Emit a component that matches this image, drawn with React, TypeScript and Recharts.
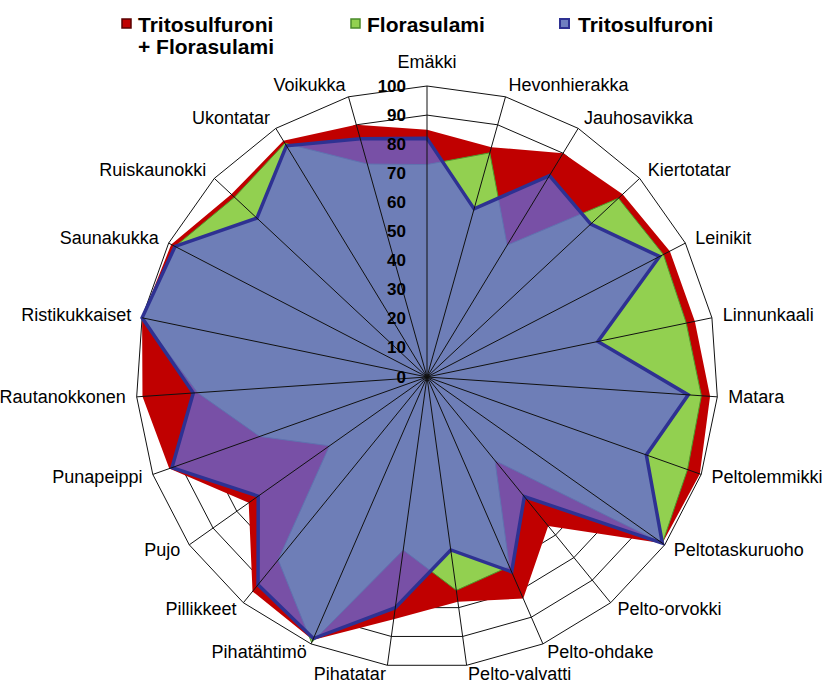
import { PolarAngleAxis, PolarGrid, PolarRadiusAxis, Radar, RadarChart } from "recharts";

const WEEDS = [
  "Emäkki",
  "Hevonhierakka",
  "Jauhosavikka",
  "Kiertotatar",
  "Leinikit",
  "Linnunkaali",
  "Matara",
  "Peltolemmikki",
  "Peltotaskuruoho",
  "Pelto-orvokki",
  "Pelto-ohdake",
  "Pelto-valvatti",
  "Pihatatar",
  "Pihatähtimö",
  "Pillikkeet",
  "Pujo",
  "Punapeippi",
  "Rautanokkonen",
  "Ristikukkaiset",
  "Saunakukka",
  "Ruiskaunokki",
  "Ukontatar",
  "Voikukka",
];

// teho-% per rikkakasvi
const COMBO = [85, 82, 90, 92, 94, 94, 97.5, 99.5, 99, 66, 83, 78, 84, 98.5, 95, 75, 94, 98, 100, 99, 92, 95, 90];
const FLORASULAMI = [73, 80, 53, 90, 91.5, 91, 94.5, 95, 99, 37, 71, 74, 60, 99.5, 81, 41, 61, 79, 100, 97.5, 90.5, 94, 76];
const TRITOSULFURONI = [82, 60, 81, 77, 90, 60, 90, 80, 99, 53, 73, 60, 80, 98, 92, 71, 93, 80.5, 100, 97.5, 80, 93, 85];

const SERIES_NAMES = ["Tritosulfuroni + Florasulami", "Florasulami", "Tritosulfuroni"];
const RADIUS_TICKS = [0, 10, 20, 30, 40, 50, 60, 70, 80, 90, 100];

const data = WEEDS.map((name, i) => ({
  name,
  combo: COMBO[i],
  flora: FLORASULAMI[i],
  trito: TRITOSULFURONI[i],
}));

const W = 824;
const H = 684;
const CX = 427;
const CY = 377;
const R = 291;
const FONT = "'Liberation Sans', Arial, sans-serif";

const RED = "#c00000";
const GREEN = "#92d050";
const BLUE = "#6466d5";
const NAVY = "#2e3192";

function AngleTick(props: any) {
  const { x, y, payload } = props;
  const dx = x - CX;
  const dy = y - CY;
  const len = Math.hypot(dx, dy) || 1;
  const ux = dx / len;
  const uy = dy / len;
  const ex = CX + ux * R;
  const ey = CY + uy * R;
  let anchor: "start" | "end" | "middle" = "middle";
  let tx = ex;
  let ty = ey - 24;
  if (Math.abs(ux) > 0.01) {
    anchor = ux > 0 ? "start" : "end";
    tx = ex + ux * 11;
    ty = ey + uy * (uy > 0 ? 8.5 : 12);
  }
  return (
    <text x={tx} y={ty} textAnchor={anchor} dominantBaseline="central" fontFamily={FONT} fontSize={18} fill="#000">
      {payload.value}
    </text>
  );
}

function RadiusTick(props: any) {
  const { y, payload } = props;
  return (
    <text
      x={CX - 21}
      y={y}
      textAnchor="end"
      dominantBaseline="central"
      fontFamily={FONT}
      fontWeight="bold"
      fontSize={17}
      fill="#000"
    >
      {payload.value}
    </text>
  );
}

function ChartLegend() {
  const text = { fontFamily: FONT, fontWeight: "bold" as const, fontSize: 21, fill: "#000" };
  return (
    <svg width={W} height={62} style={{ position: "absolute", left: 0, top: 0, pointerEvents: "none" }}>
      <rect x={122} y={19} width={9} height={9} fill={RED} stroke="#5a0000" strokeWidth={1.5} />
      <text x={138} y={32.3} {...text}>
        Tritosulfuroni
      </text>
      <text x={138} y={54.3} {...text}>
        + Florasulami
      </text>
      <rect x={351} y={19} width={9} height={9} fill={GREEN} stroke="#4a8a2a" strokeWidth={1.5} />
      <text x={367} y={32.3} {...text}>
        {SERIES_NAMES[1]}
      </text>
      <rect x={560} y={19} width={9} height={9} fill="#6f7fc0" stroke={NAVY} strokeWidth={2} />
      <text x={578} y={32.3} {...text}>
        {SERIES_NAMES[2]}
      </text>
    </svg>
  );
}

export default function App() {
  return (
    <div style={{ position: "absolute", left: 0, top: 0, width: W, height: H, background: "#fff" }}>
      <RadarChart
        width={W}
        height={H}
        data={data}
        cx={CX}
        cy={CY}
        outerRadius={R}
        margin={{ top: 0, right: 0, bottom: 0, left: 0 }}
      >
        <PolarGrid gridType="polygon" radialLines={false} stroke="#111" strokeWidth={1} />
        <Radar
          name={SERIES_NAMES[0]}
          dataKey="combo"
          fill={RED}
          fillOpacity={1}
          stroke="none"
          isAnimationActive={false}
        />
        <Radar
          name={SERIES_NAMES[1]}
          dataKey="flora"
          fill={GREEN}
          fillOpacity={1}
          stroke="#4f9a2c"
          strokeWidth={1}
          isAnimationActive={false}
        />
        <Radar
          name={SERIES_NAMES[2]}
          dataKey="trito"
          fill={BLUE}
          fillOpacity={0.78}
          stroke={NAVY}
          strokeWidth={3.5}
          isAnimationActive={false}
        />
        <PolarGrid gridType="polygon" polarRadius={[]} stroke="#111" strokeWidth={1} zIndex={150} />
        <PolarAngleAxis dataKey="name" tick={AngleTick} tickLine={false} axisLine={false} />
        <PolarRadiusAxis
          angle={90}
          domain={[0, 100]}
          ticks={RADIUS_TICKS}
          tickCount={11}
          tick={RadiusTick}
          axisLine={false}
          tickLine={false}
        />
      </RadarChart>
      <ChartLegend />
    </div>
  );
}
